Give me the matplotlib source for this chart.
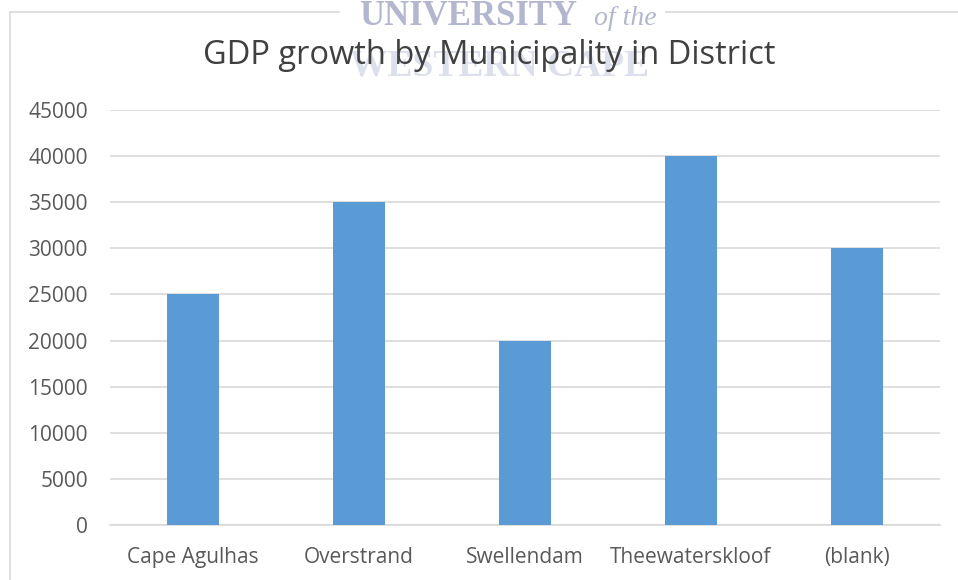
import matplotlib
matplotlib.use("Agg")
import matplotlib.pyplot as plt
from matplotlib.patches import Rectangle
from matplotlib.lines import Line2D

categories = ["Cape Agulhas", "Overstrand", "Swellendam", "Theewaterskloof", "(blank)"]
gdp_growth = [25000, 35000, 20000, 40000, 30000]
y_ticks = [0, 5000, 10000, 15000, 20000, 25000, 30000, 35000, 40000, 45000]

W, H = 958, 580
fig = plt.figure(figsize=(W / 100, H / 100), dpi=100)
fig.patch.set_facecolor("white")

font = ["Open Sans", "DejaVu Sans"]
text_color = "#595959"
grid_color = "#D9D9D9"
bar_color = "#5B9BD5"

# chart frame (left and top edges)
fig.add_artist(Line2D([9.5 / W, 9.5 / W], [0, 1 - 12 / H], color=grid_color, lw=1.2,
                      transform=fig.transFigure))
fig.add_artist(Line2D([9.5 / W, 1], [1 - 12 / H, 1 - 12 / H], color=grid_color, lw=1.2,
                      transform=fig.transFigure))

# watermark block
fig.add_artist(Rectangle((340 / W, 1 - 30 / H), 325 / W, 30 / H, facecolor="white",
                         edgecolor="none", transform=fig.transFigure, zorder=2))
fig.text(468 / W, 1 - 25 / H, "UNIVERSITY", ha="center", va="baseline", fontsize=25,
         family="Liberation Serif", fontweight="bold", color="#B2B6CE", zorder=3)
fig.text(625 / W, 1 - 25 / H, "of the", ha="center", va="baseline", fontsize=20,
         family="Liberation Serif", style="italic", color="#B2B6CE", zorder=3)
fig.text(500 / W, 1 - 76 / H, "WESTERN CAPE", ha="center", va="baseline", fontsize=27,
         family="Liberation Serif", fontweight="bold", color="#DCDFEC", zorder=3)

ax = fig.add_axes([110 / W, 1 - 525 / H, 830 / W, 415 / H])
ax.set_facecolor("none")
x = list(range(len(categories)))
ax.bar(x, gdp_growth, width=0.315, color=bar_color, zorder=3)
ax.set_xlim(-0.5, len(categories) - 0.5)
ax.set_ylim(0, 45000)
ax.set_yticks(y_ticks)
ax.set_yticklabels([str(v) for v in y_ticks], family=font, fontsize=15, color=text_color)
ax.set_xticks(x)
ax.set_xticklabels(categories, family=font, fontsize=15, color=text_color)
ax.tick_params(axis="both", length=0)
ax.tick_params(axis="y", pad=16)
ax.tick_params(axis="x", pad=16)
ax.grid(axis="y", color=grid_color, lw=1.2, zorder=0)
for s in ["top", "right", "left"]:
    ax.spines[s].set_visible(False)
ax.spines["bottom"].set_color(grid_color)
ax.spines["bottom"].set_linewidth(1.2)

fig.text(489 / W, 1 - 55 / H, "GDP growth by Municipality in District", ha="center",
         va="center", family=font, fontsize=23.5, color="#404040", zorder=4)

fig.savefig("out.png", dpi=100, facecolor="white")
